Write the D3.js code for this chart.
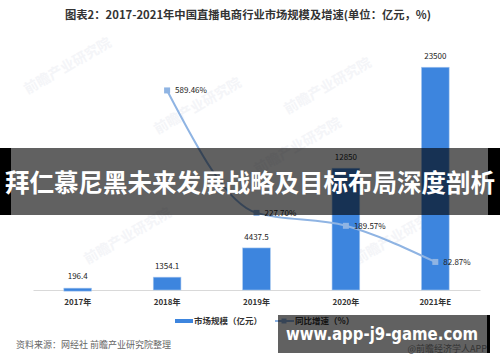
<!DOCTYPE html>
<html><head><meta charset="utf-8">
<script src="https://cdn.jsdelivr.net/npm/d3@7"></script>
<style>body{margin:0;background:#fff}svg{display:block}</style>
</head><body>
<script>
const categories = ["2017年","2018年","2019年","2020年","2021年E"];
const marketSize = [196.4, 1354.1, 4437.5, 12850, 23500];
const marketLabels = ["196.4","1354.1","4437.5","12850","23500"];
const growth = [null, 589.46, 227.70, 189.57, 82.87];
const growthLabels = ["", "589.46%", "227.70%", "189.57%", "82.87%"];
const title = "图表2：2017-2021年中国直播电商行业市场规模及增速(单位：亿元，%)";
const legendNames = ["市场规模（亿元）","同比增速（%）"];
const source = "资料来源：网经社 前瞻产业研究院整理";
const banner = "拜仁慕尼黑未来发展战略及目标布局深度剖析";
const site = "www.app-j9-game.com";
const siteSub = "@前瞻经济学人APP";

const W = 500, H = 362;
const svg = d3.select("body").append("svg").attr("width", W).attr("height", H);
const font = "'Noto Sans CJK SC','Microsoft YaHei',sans-serif";
const barColor = "#3d85de", lineColor = "#8fb4e3";

// faint watermarks
const wm = [[70,70],[200,110],[300,150],[130,240],[400,240],[330,90]];
svg.append("g").selectAll("text").data(wm).join("text")
  .attr("transform", d => `translate(${d[0]},${d[1]}) rotate(-30)`)
  .attr("text-anchor","middle").attr("font-family",font).attr("font-size",14).attr("font-weight","bold")
  .attr("fill","#f4f5f8").text("前瞻产业研究院");

svg.append("text").attr("x",248).attr("y",19).attr("text-anchor","middle")
  .attr("font-family",font).attr("font-size",11).attr("font-weight","bold").attr("fill","#333")
  .attr("textLength",366).attr("lengthAdjust","spacingAndGlyphs").text(title);

const x = d3.scaleBand().domain(categories).range([33,480]).paddingInner(0.69).paddingOuter(0.345);
const y = d3.scaleLinear().domain([0,25000]).range([290,53]);
const y2 = d3.scaleLinear().domain([0,700]).range([290,53]);

// axis
const ax = svg.append("g").attr("transform","translate(0,290)").call(d3.axisBottom(x).tickSize(0).tickPadding(9));
ax.select(".domain").attr("stroke","#d9d9d9").attr("stroke-width",1.2);
ax.selectAll("text").attr("font-family",font).attr("font-size",8).attr("font-weight","bold").attr("fill","#333");

// bars
svg.append("g").selectAll("rect").data(marketSize).join("rect")
  .attr("x",(d,i)=>x(categories[i])).attr("width",x.bandwidth())
  .attr("y",d=>y(d)).attr("height",d=>Math.max(3,290-y(d)))
  .attr("fill",barColor).attr("stroke","#a9c8ef").attr("stroke-width",0.6);
svg.append("g").selectAll("text").data(marketSize).join("text")
  .attr("x",(d,i)=>x(categories[i])+x.bandwidth()/2).attr("y",d=>Math.min(y(d),287)-8)
  .attr("text-anchor","middle").attr("font-family",font).attr("font-size",8).attr("fill","#222")
  .text((d,i)=>marketLabels[i]);

// line
const pts = growth.map((g,i)=>({c:categories[i],g,l:growthLabels[i]})).filter(d=>d.g!=null);
const cx = d => x(d.c)+x.bandwidth()/2;
svg.append("path").datum(pts)
  .attr("d", d3.line().x(cx).y(d=>y2(d.g)).curve(d3.curveMonotoneX))
  .attr("fill","none").attr("stroke",lineColor).attr("stroke-width",2);
svg.append("g").selectAll("rect").data(pts).join("rect")
  .attr("x",d=>cx(d)-3).attr("y",d=>y2(d.g)-3).attr("width",6).attr("height",6).attr("fill",lineColor);
svg.append("g").selectAll("text").data(pts).join("text")
  .attr("x",d=>cx(d)+8).attr("y",d=>y2(d.g)+3)
  .attr("font-family",font).attr("font-size",8).attr("fill","#222").text(d=>d.l);

// legend
svg.append("rect").attr("x",175).attr("y",319).attr("width",18).attr("height",4).attr("fill",barColor);
svg.append("text").attr("x",194).attr("y",324).attr("font-family",font).attr("font-size",8.5).attr("font-weight","bold").attr("fill","#333").text(legendNames[0]);
svg.append("line").attr("x1",275).attr("x2",294).attr("y1",321).attr("y2",321).attr("stroke",lineColor).attr("stroke-width",2);
svg.append("rect").attr("x",281.5).attr("y",318.5).attr("width",5).attr("height",5).attr("fill",lineColor);
svg.append("text").attr("x",295).attr("y",324).attr("font-family",font).attr("font-size",8.5).attr("font-weight","bold").attr("fill","#333").text(legendNames[1]);

// source
svg.append("text").attr("x",16).attr("y",348).attr("font-family",font).attr("font-size",9).attr("fill","#666").text(source);

// banner overlay
svg.append("rect").attr("x",0).attr("y",148).attr("width",11).attr("height",67).attr("fill","#000");
svg.append("rect").attr("x",488).attr("y",148).attr("width",12).attr("height",67).attr("fill","#000");
svg.append("rect").attr("x",11).attr("y",148).attr("width",477).attr("height",67).attr("fill","#000").attr("opacity",0.62);
svg.append("text").attr("x",250).attr("y",192).attr("text-anchor","middle")
  .attr("font-family",font).attr("font-size",24.5).attr("font-weight","bold").attr("fill","#fff").text(banner);

// site overlay
svg.append("rect").attr("x",278).attr("y",315).attr("width",209).attr("height",38).attr("fill","#000").attr("opacity",0.62);
svg.append("rect").attr("x",487).attr("y",315).attr("width",3).attr("height",38).attr("fill","#000");
svg.append("text").attr("x",382).attr("y",340).attr("text-anchor","middle")
  .attr("font-family","'DejaVu Sans',sans-serif").attr("font-size",18).attr("font-weight","bold").attr("fill","#fff")
  .attr("textLength",192).attr("lengthAdjust","spacingAndGlyphs").text(site);
svg.append("text").attr("x",487).attr("y",352).attr("text-anchor","end")
  .attr("font-family",font).attr("font-size",9).attr("fill","#333").text(siteSub);
</script>
</body></html>
